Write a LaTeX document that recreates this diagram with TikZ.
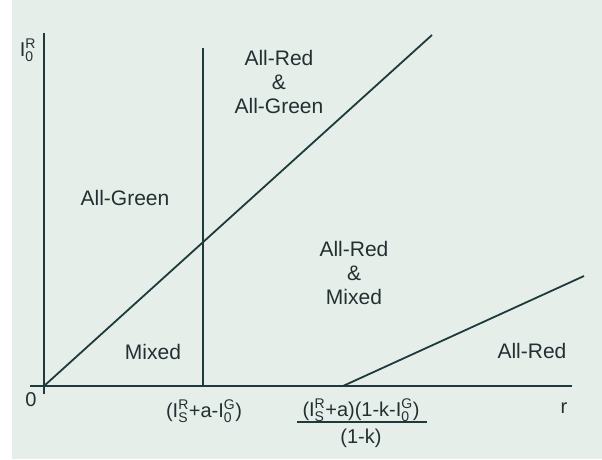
\documentclass[tikz,border=0pt]{standalone}
\usepackage{amsmath}
\usepackage{fontspec}
\setmainfont{Liberation Sans}
\definecolor{bg}{HTML}{E6EEEA}
\definecolor{ink}{HTML}{1E3A3C}
\definecolor{txt}{HTML}{223032}
\newcommand{\Isr}[2]{$\text{I}^{\text{#1}}_{\text{#2}}$}
\begin{document}
\begin{tikzpicture}[x=1pt,y=-1pt,
  ln/.style={draw=ink,line width=1.8pt},
  lbl/.style={text=txt,font=\fontsize{21}{24}\selectfont,align=center,inner sep=0pt},
  tick/.style={text=txt,font=\fontsize{20}{23}\selectfont,inner sep=0pt}]
\fill[white] (0,0) rectangle (602,459);
\fill[bg] (12,0) rectangle (602,459);
\useasboundingbox (0,0) rectangle (602,459);
% axes
\coordinate (xa0) at (30,386);
\coordinate (xa1) at (572,386);
\coordinate (ya0) at (44,394);
\coordinate (ya1) at (44,33);
\coordinate (o) at (44,386);
\coordinate (v0) at (203,386);
\coordinate (v1) at (203,48);
\coordinate (d1) at (432,35);
\coordinate (l0) at (343,386);
\coordinate (l1) at (584,276);
\draw[ln] (xa0) -- (xa1);
\draw[ln] (ya0) -- (ya1);
\draw[ln] (v0) -- (v1);
\draw[ln] (o) -- (d1);
\draw[ln] (l0) -- (l1);
% labels
\node[tick] (ylab) at (28,50) {\Isr{R}{0}};
\node[tick] (zero) at (31,400) {0};
\node[tick] (rlab) at (564,408) {r};
\node[tick] (t1) at (204,411) {(\Isr{R}{S}+a-\Isr{G}{0})};
\node[tick] (num) at (361,410) {(\Isr{R}{S}+a)(1-k-\Isr{G}{0})};
\draw[ln,line width=1.5pt] (297,422) -- (427,422);
\node[tick] (den) at (361,438) {(1-k)};
\node[lbl] (rg) at (279,82) {All-Red\\[0pt]\&\\[0pt]All-Green};
\node[lbl] (ag) at (125,198) {All-Green};
\node[lbl] (rm) at (354,273) {All-Red\\[0pt]\&\\[0pt]Mixed};
\node[lbl] (mx) at (153,352) {Mixed};
\node[lbl] (ar) at (532,351) {All-Red};
\end{tikzpicture}
\end{document}
